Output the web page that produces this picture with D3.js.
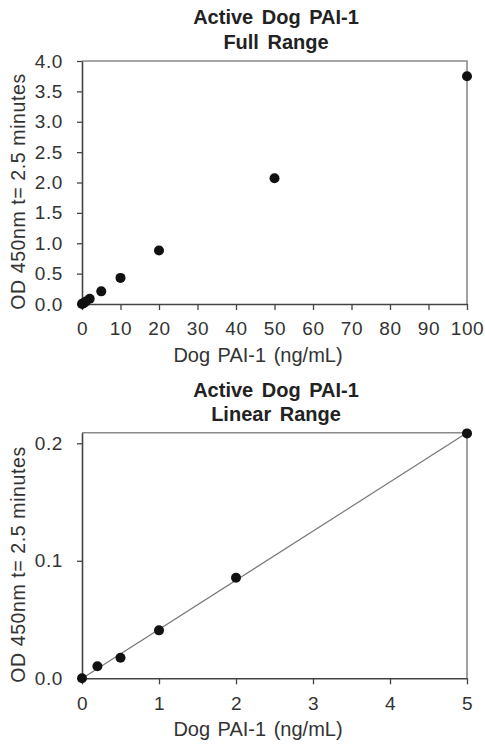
<!DOCTYPE html>
<html>
<head>
<meta charset="utf-8">
<script src="https://cdn.jsdelivr.net/npm/d3@7"></script>
<style>
  body { margin: 0; background: #fff; }
  svg { display: block; font-family: "Liberation Sans", Arial, sans-serif; }
</style>
</head>
<body>
<svg id="chart" width="485" height="745"></svg>
<script>
// values
const fullConc = [0, 0.2, 0.5, 1, 2, 5, 10, 20, 50, 100];
const fullOD = [0, 0.010, 0.017, 0.041, 0.086, 0.208, 0.43, 0.88, 2.07, 3.75];
const fullXTicks = [0, 10, 20, 30, 40, 50, 60, 70, 80, 90, 100];
const fullYTicks = [0, 0.5, 1.0, 1.5, 2.0, 2.5, 3.0, 3.5, 4.0];

const linearConc = [0, 0.2, 0.5, 1, 2, 5];
const linearOD = [0, 0.0102, 0.0175, 0.0408, 0.0856, 0.2084];
const linearXTicks = [0, 1, 2, 3, 4, 5];
const linearYTicks = [0, 0.1, 0.2];

const xTitle = "Dog PAI-1 (ng/mL)";
const yTitle = "OD 450nm t= 2.5 minutes";

const textColor = "#333";
const svg = d3.select("#chart");

function drawPanel(opts) {
  const g = svg.append("g");
  const left = 82, right = 467;

  const x = d3.scaleLinear().domain(opts.xDomain).range([left, right]);
  const y = d3.scaleLinear().domain(opts.yDomain).range([opts.bottom, opts.top]);

  // title
  opts.title.forEach((line, i) => {
    g.append("text")
      .attr("x", 276)
      .attr("y", opts.titleY + i * 24.5)
      .attr("text-anchor", "middle")
      .style("font-size", "20px")
      .style("font-weight", "bold")
      .style("word-spacing", "3px")
      .attr("fill", "#222")
      .text(line);
  });

  // grey frame, top and right
  g.append("path")
    .attr("d", `M${left},${opts.top}H${right}V${opts.bottom}`)
    .attr("fill", "none")
    .attr("stroke", "#8a8a8a")
    .attr("stroke-width", 1.6);

  const xAxis = g.append("g")
    .attr("transform", `translate(0,${opts.bottom})`)
    .call(d3.axisBottom(x).tickValues(opts.xTicks).tickSize(6).tickPadding(12).tickSizeOuter(0)
      .tickFormat(d3.format("d")));

  const yAxis = g.append("g")
    .attr("transform", `translate(${left},0)`)
    .call(d3.axisLeft(y).tickValues(opts.yTicks).tickSize(5).tickPadding(14).tickSizeOuter(0)
      .tickFormat(d3.format(".1f")));

  [xAxis, yAxis].forEach((a) => {
    a.select(".domain").attr("stroke", "#444").attr("stroke-width", 1.6);
    a.selectAll(".tick line").attr("stroke", "#444").attr("stroke-width", 1.3);
    a.selectAll(".tick text")
      .attr("fill", textColor)
      .style("font-size", "19px")
      .style("letter-spacing", "0.6px")
      .style("font-family", "Liberation Sans, Arial, sans-serif");
  });

  g.append("text")
    .attr("x", 258)
    .attr("y", opts.bottom + 58)
    .attr("text-anchor", "middle")
    .style("font-size", "20px")
    .style("word-spacing", "2px")
    .attr("fill", textColor)
    .text(xTitle);

  g.append("text")
    .attr("transform", `translate(25,${(opts.top + opts.bottom) / 2 + 9}) rotate(-90)`)
    .attr("text-anchor", "middle")
    .style("font-size", "19.5px")
    .style("letter-spacing", "0.6px")
    .attr("fill", textColor)
    .text(yTitle);

  if (opts.fit) {
    // least squares line through the linear range points
    const mx = d3.mean(opts.xs), my = d3.mean(opts.ys);
    const sxy = d3.sum(opts.xs, (v, i) => (v - mx) * (opts.ys[i] - my));
    const sxx = d3.sum(opts.xs, (v) => (v - mx) * (v - mx));
    const slope = sxy / sxx, icpt = my - slope * mx;
    const x0 = opts.xDomain[0], x1 = opts.xDomain[1];
    g.append("line")
      .attr("x1", x(x0)).attr("y1", y(icpt + slope * x0))
      .attr("x2", x(x1)).attr("y2", y(icpt + slope * x1))
      .attr("stroke", "#777")
      .attr("stroke-width", 1.2);
  }

  g.selectAll(".dot")
    .data(opts.xs.map((v, i) => ({ c: v, od: opts.ys[i] })))
    .enter()
    .append("circle")
    .attr("class", "dot")
    .attr("cx", (d) => x(d.c))
    .attr("cy", (d) => y(d.od))
    .attr("r", 5)
    .attr("fill", "#111");
}

drawPanel({
  title: ["Active Dog PAI-1", "Full Range"],
  titleY: 24,
  top: 61,
  bottom: 304,
  xDomain: [0, 100],
  yDomain: [0, 4],
  xTicks: fullXTicks,
  yTicks: fullYTicks,
  xs: fullConc,
  ys: fullOD,
  fit: false,
});

drawPanel({
  title: ["Active Dog PAI-1", "Linear Range"],
  titleY: 396.7,
  top: 432.7,
  bottom: 678.3,
  xDomain: [0, 5],
  yDomain: [0, 0.209],
  xTicks: linearXTicks,
  yTicks: linearYTicks,
  xs: linearConc,
  ys: linearOD,
  fit: true,
});
</script>
</body>
</html>
